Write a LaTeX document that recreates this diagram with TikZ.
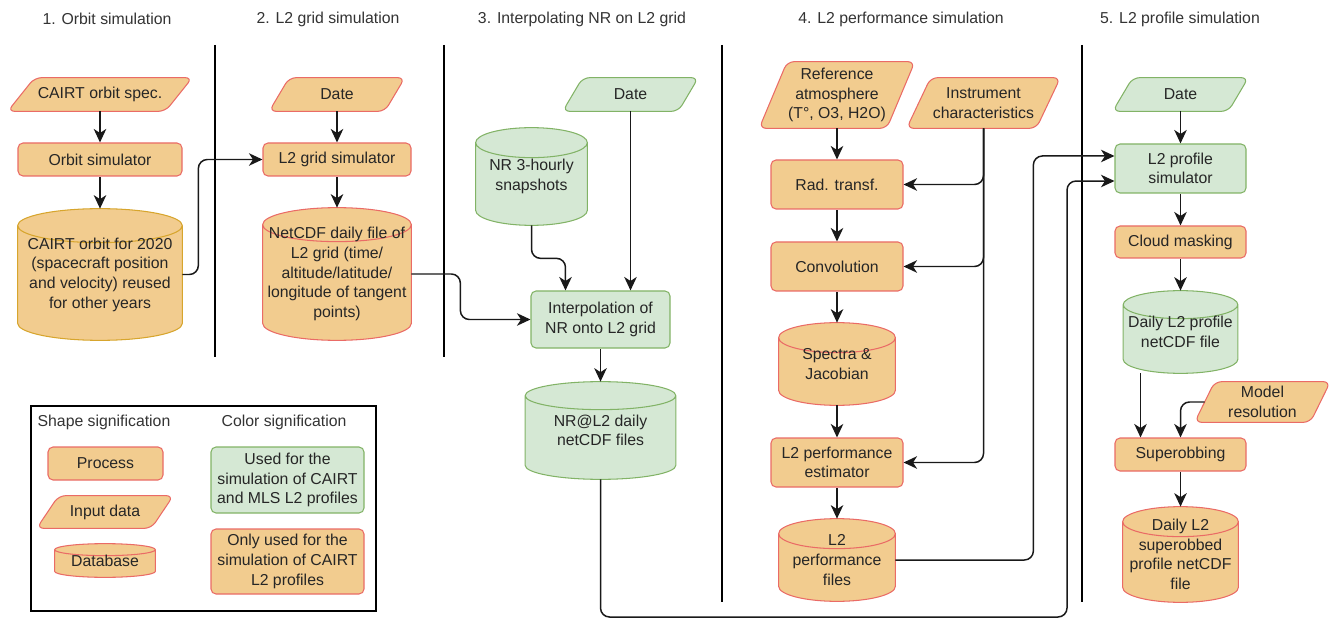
\documentclass[tikz,border=0pt]{standalone}
\usepackage{fontspec}
\setmainfont{Liberation Sans}
\usetikzlibrary{arrows.meta,backgrounds,calc}

\definecolor{orfill}{RGB}{242,204,143}
\definecolor{orline}{RGB}{234,107,102}
\definecolor{gdline}{RGB}{215,165,45}
\definecolor{grfill}{RGB}{213,232,212}
\definecolor{grline}{RGB}{130,179,102}

% parallelogram (input data) behind a text node: node, slant
\newcommand\iobox[3][]{%
  \draw[#1,rounded corners=0.14cm] (#2.south west) -- ([xshift=#3]#2.north west)
    -- (#2.north east) -- ([xshift=-#3]#2.south east) -- cycle;}

% cylinder (database) behind a text node: node, half height of the ellipse
\newcommand\dbcyl[3][]{%
  \draw[#1] let \p1=(#2.west), \p2=(#2.east), \n1={(\x2-\x1)/2} in
    ([yshift=-#3]#2.north west) -- ([yshift=#3]#2.south west)
    arc[start angle=180,end angle=360,x radius=\n1,y radius=#3]
    -- ([yshift=-#3]#2.north east)
    arc[start angle=0,end angle=180,x radius=\n1,y radius=#3] -- cycle
    ([yshift=-#3]#2.north west)
    arc[start angle=180,end angle=360,x radius=\n1,y radius=#3];}

\begin{document}
\begin{tikzpicture}
		[x=0.02cm, y=-0.02cm,
		font=\fontsize{9}{11.2}\selectfont,
		>={Stealth[length=0.27cm,width=0.25cm,inset=0.08cm]},
		bw/.style={minimum width=#1*0.02cm},
		bh/.style={minimum height=#1*0.02cm},
		txt/.style={align=center,inner sep=1pt,text=black!85},
		proc/.style={txt,rectangle,rounded corners=0.1cm,line width=0.6pt,draw=orline,fill=orfill},
		procg/.style={proc,draw=grline,fill=grfill},
		shp/.style={txt,rectangle},
		ttl/.style={text=black!80},
		orshape/.style={line width=0.6pt,draw=orline,fill=orfill},
		grshape/.style={line width=0.6pt,draw=grline,fill=grfill},
		gdshape/.style={line width=0.6pt,draw=gdline,fill=orfill},
		every edge/.style={draw=black!90,line width=0.85pt},
		arr/.style={->,draw=black!90,line width=0.85pt,rounded corners=0.18cm},
		sep/.style={line width=0.6pt}]

		\useasboundingbox (0,0) rectangle (1331,621);

		% column titles
		\node[ttl] (ttl1) at (107,19) {1. Orbit simulation};
		\node[ttl] (ttl2) at (328,19) {2. L2 grid simulation};
		\node[ttl] (ttl3) at (582,19) {3. Interpolating NR on L2 grid};
		\node[ttl] (ttl4) at (901,19) {4. L2 performance simulation};
		\node[ttl] (ttl5) at (1180,19) {5. L2 profile simulation};

		\draw[sep] (215,45) -- (215,357);
		\draw[sep] (444,45) -- (444,357);
		\draw[sep] (722,45) -- (722,602);
		\draw[sep] (1082,45) -- (1082,602);

		% 1. orbit
		\node[shp,bw=184,bh=33] (orbspec) at (100,94.5) {CAIRT orbit spec.};

		\node[proc,bw=164,bh=33] (orbsim) at (100,159.5) {Orbit simulator}
			edge [<-]	(orbspec)
		;

		\node[shp,bw=164,bh=131] (orbdb) at (100,274.5)
			{CAIRT orbit for 2020\\(spacecraft position\\and velocity) reused\\for other years}
			edge [<-]	(orbsim)
		;

		% 2. L2 grid
		\node[shp,bw=135,bh=33] (date2) at (337,94.5) {Date};

		\node[proc,bw=148,bh=33] (gridsim) at (337,159.5) {L2 grid simulator}
			edge [<-]	(date2)
		;

		\node[shp,bw=148,bh=132] (ncgrid) at (337,274)
			{NetCDF daily file of\\L2 grid (time/\\altitude/latitude/\\longitude of tangent\\points)}
			edge [<-]	(gridsim)
		;

		% 3. interpolation
		\node[shp,bw=135,bh=33] (date3) at (630.5,94.5) {Date};
		\node[shp,bw=111,bh=97] (nr3) at (531.5,176.5) {NR 3-hourly\\snapshots};
		\node[procg,bw=139,bh=57] (interp) at (600.5,319.5) {Interpolation of\\NR onto L2 grid};

		\node[shp,bw=150,bh=97] (nrl2) at (600.5,430.5) {NR@L2 daily\\netCDF files}
			edge [<-]	(interp)
		;

		% 4. L2 performance
		\node[shp,bw=155,bh=66] (refatm) at (837,95) {Reference\\atmosphere\\(T°, O3, H2O)};
		\node[shp,bw=153,bh=50] (instr) at (983.5,103) {Instrument\\characteristics};

		\node[proc,bw=132,bh=49] (radt) at (837,184.5) {Rad. transf.}
			edge [<-]	(refatm)
		;

		\node[proc,bw=132,bh=49] (conv) at (837,266.5) {Convolution}
			edge [<-]	(radt)
		;

		\node[shp,bw=116,bh=82] (spectra) at (837,364) {Spectra \&\\Jacobian}
			edge [<-]	(conv)
		;

		\node[proc,bw=132,bh=49] (estim) at (837,462.5) {L2 performance\\estimator}
			edge [<-]	(spectra)
		;

		\node[shp,bw=116,bh=82] (perffiles) at (837,560) {L2\\performance\\files}
			edge [<-]	(estim)
		;

		% 5. L2 profile
		\node[shp,bw=135,bh=33] (date5) at (1180.5,94.5) {Date};

		\node[procg,bw=131,bh=49] (l2sim) at (1180.5,168.5) {L2 profile\\simulator}
			edge [<-]	(date5)
		;

		\node[proc,bw=131,bh=32] (cloud) at (1180.5,242) {Cloud masking}
			edge [<-]	(l2sim)
		;

		\node[shp,bw=114,bh=82] (profdb) at (1180.5,332) {Daily L2 profile\\netCDF file}
			edge [<-]	(cloud)
		;

		\node[shp,bw=135,bh=40] (modres) at (1262.5,402) {Model\\resolution};
		\node[proc,bw=131,bh=33] (superob) at (1180.5,454.5) {Superobbing};

		\node[shp,bw=115,bh=95] (superdb) at (1180.5,554.5)
			{Daily L2\\superobbed\\profile netCDF\\file}
			edge [<-]	(superob)
		;

		% legend
		\draw[sep] (31,406) rectangle (376,611);
		\node[ttl] (lgshape) at (104,422) {Shape signification};
		\node[ttl] (lgcolor) at (284,422) {Color signification};
		\node[proc,bw=115,bh=33] (lgproc) at (105.5,463.5) {Process};
		\node[shp,bw=136,bh=32] (lgin) at (105,512) {Input data};
		\node[shp,bw=100,bh=33] (lgdb) at (105,560.5) {Database};
		\node[procg,bw=153,bh=66] (lggreen) at (287.5,480) {Used for the\\simulation of CAIRT\\and MLS L2 profiles};
		\node[proc,bw=153,bh=65] (lgorange) at (287.5,561.5) {Only used for the\\simulation of CAIRT\\L2 profiles};

		% shapes behind the texts
		\begin{scope}[on background layer]
			\iobox[orshape]{orbspec}{0.54cm}
			\iobox[orshape]{date2}{0.4cm}
			\iobox[grshape]{date3}{0.4cm}
			\iobox[orshape]{refatm}{0.56cm}
			\iobox[orshape]{instr}{0.48cm}
			\iobox[grshape]{date5}{0.4cm}
			\iobox[orshape]{modres}{0.4cm}
			\iobox[orshape]{lgin}{0.44cm}
			\dbcyl[gdshape]{orbdb}{0.34cm}
			\dbcyl[orshape]{ncgrid}{0.34cm}
			\dbcyl[grshape]{nr3}{0.3cm}
			\dbcyl[grshape]{nrl2}{0.28cm}
			\dbcyl[orshape]{spectra}{0.3cm}
			\dbcyl[orshape]{perffiles}{0.3cm}
			\dbcyl[grshape]{profdb}{0.28cm}
			\dbcyl[orshape]{superdb}{0.3cm}
			\dbcyl[orshape]{lgdb}{0.12cm}
		\end{scope}

		% connectors
		\coordinate (ipin) at ($(interp.north west)!0.25!(interp.north east)$);
		\coordinate (l2inA) at ($(l2sim.north west)!0.25!(l2sim.south west)$);
		\coordinate (l2inB) at ($(l2sim.north west)!0.75!(l2sim.south west)$);
		\coordinate (bus) at (1067,617);
		\coordinate (pdout) at ([xshift=-0.8cm]profdb.south);

		\draw[arr] (orbdb.east) -- ++(16,0) |- (gridsim.west);
		\draw[arr] (ncgrid.east) -- ++(49,0) |- (interp.west);
		\draw[arr] (nr3.south) -- ++(0,33) -| (ipin);
		\draw[arr] (date3.south) -- (date3.south |- interp.north);
		\draw[arr] (instr.south) |- (radt.east);
		\draw[arr] (instr.south) |- (conv.east);
		\draw[arr] (instr.south) |- (estim.east);
		\draw[arr] (perffiles.east) -- ++(138,0) |- (l2inA);
		\draw[arr] (nrl2.south) |- (bus) |- (l2inB);
		\draw[arr] (pdout) -- (pdout |- superob.north);
		\draw[arr] ([xshift=0.2cm]modres.west) -| (superob.north);
\end{tikzpicture}
\end{document}
